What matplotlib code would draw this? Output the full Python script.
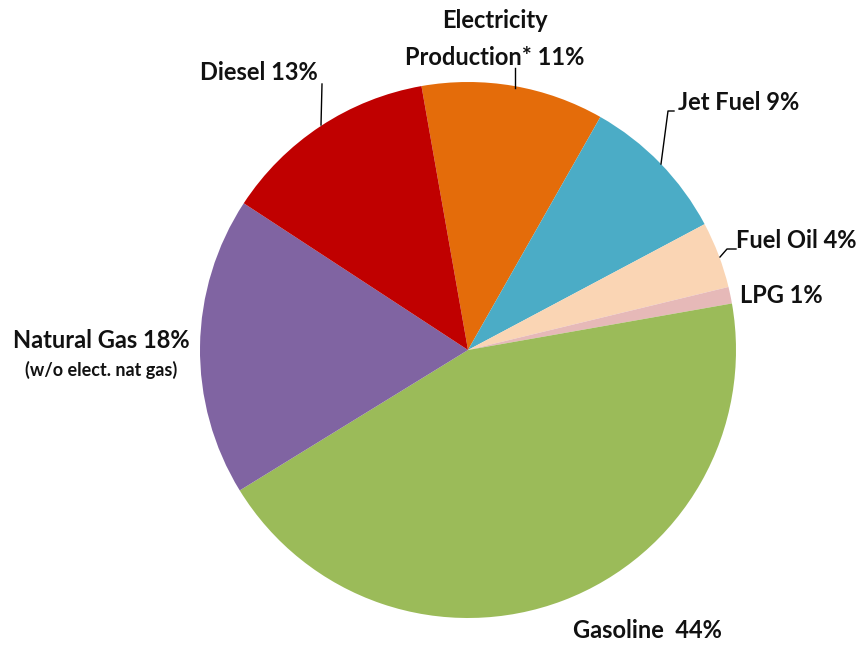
import matplotlib.pyplot as plt

plt.rcParams['font.family'] = ['Lato', 'DejaVu Sans']

labels = ['Electricity\nProduction* 11%', 'Jet Fuel 9%', 'Fuel Oil 4%', 'LPG 1%',
          'Gasoline  44%', 'Natural Gas 18%', 'Diesel 13%']
shares = [11, 9, 4, 1, 44, 18, 13]
colors = ['#E46C0A', '#4BACC6', '#FAD5B4', '#E6B9B8', '#9BBB59', '#8064A2', '#C00000']

W, H = 862, 645
fig = plt.figure(figsize=(W / 100, H / 100), dpi=100)
ax = fig.add_axes([0, 0, 1, 1])

cx, cy, r = 468, H - 350, 268
ax.pie(shares, colors=colors, startangle=100, counterclock=False,
       center=(cx, cy), radius=r, wedgeprops=dict(linewidth=0))
ax.set_xlim(0, W)
ax.set_ylim(0, H)
ax.set_aspect('equal')
ax.axis('off')

def py(y):
    return H - y

txt = dict(fontsize=17, fontweight='bold', color='#111111')
line = dict(color='black', lw=1)

# label text and leader lines (pixel coordinates, y measured from top)
ax.text(495, py(39), labels[0], ha='center', va='center', linespacing=1.7, **txt)
ax.plot([515, 515], [py(68), py(88)], **line)

ax.text(678, py(103), labels[1], ha='left', va='center', **txt)
ax.plot([674, 668, 661], [py(111), py(111), py(164)], **line)

ax.text(736, py(241), labels[2], ha='left', va='center', **txt)
ax.plot([736, 727, 720], [py(249), py(249), py(257)], **line)

ax.text(740, py(296), labels[3], ha='left', va='center', **txt)

ax.text(647, py(631), labels[4], ha='center', va='center', **txt)

ax.text(101, py(341), labels[5], ha='center', va='center', **txt)
ax.text(101, py(370), '(w/o elect. nat gas)', ha='center', va='center',
        fontsize=13, fontweight='bold', color='#111111')

ax.text(259, py(73), labels[6], ha='center', va='center', **txt)
ax.plot([322, 321], [py(84), py(125)], **line)

fig.savefig('out.png', dpi=100)
